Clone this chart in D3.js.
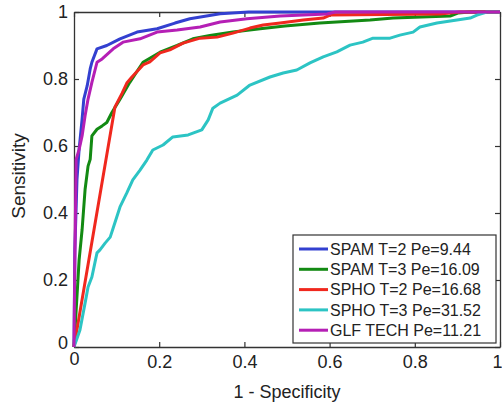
<!DOCTYPE html>
<html>
<head>
<meta charset="utf-8">
<script src="https://cdn.jsdelivr.net/npm/d3@7"></script>
<style>
  body { margin: 0; background: #fff; }
  text { font-family: "Liberation Sans", Arial, sans-serif; fill: #222; }
</style>
</head>
<body>
<div id="chart"></div>
<script>
// ROC curves, values as [1 - specificity, sensitivity]
const spamT2 = [[0,0],[0.002,0.29],[0.007,0.5],[0.012,0.59],[0.019,0.68],[0.023,0.74],[0.031,0.78],[0.038,0.83],[0.042,0.85],[0.054,0.89],[0.077,0.9],[0.108,0.92],[0.148,0.94],[0.195,0.95],[0.237,0.967],[0.272,0.98],[0.343,0.995],[0.41,1],[1,1]]
const spamT3 = [[0,0],[0.012,0.26],[0.019,0.35],[0.026,0.47],[0.033,0.54],[0.038,0.56],[0.042,0.63],[0.054,0.65],[0.066,0.66],[0.077,0.67],[0.089,0.7],[0.108,0.74],[0.131,0.79],[0.162,0.85],[0.202,0.88],[0.242,0.9],[0.279,0.92],[0.319,0.93],[0.373,0.94],[0.437,0.95],[0.495,0.958],[0.577,0.967],[0.695,0.976],[0.749,0.982],[0.883,0.988],[0.901,0.997],[0.93,1],[1,1]]
const sphoT2 = [[0,0],[0.096,0.716],[0.113,0.758],[0.124,0.788],[0.136,0.806],[0.162,0.842],[0.178,0.851],[0.202,0.878],[0.225,0.887],[0.256,0.907],[0.296,0.922],[0.336,0.925],[0.373,0.937],[0.413,0.952],[0.444,0.961],[0.484,0.967],[0.538,0.976],[0.585,0.982],[0.601,0.991],[0.859,0.994],[0.906,1],[1,1]]
const sphoT3 = [[0,0],[0.014,0.051],[0.026,0.131],[0.033,0.179],[0.042,0.209],[0.049,0.251],[0.054,0.281],[0.061,0.29],[0.073,0.31],[0.085,0.328],[0.092,0.355],[0.108,0.418],[0.124,0.46],[0.138,0.499],[0.155,0.528],[0.171,0.558],[0.185,0.588],[0.209,0.603],[0.232,0.627],[0.268,0.633],[0.3,0.648],[0.315,0.678],[0.326,0.713],[0.343,0.728],[0.383,0.752],[0.413,0.782],[0.46,0.806],[0.491,0.818],[0.523,0.827],[0.554,0.848],[0.585,0.866],[0.617,0.881],[0.648,0.901],[0.678,0.91],[0.702,0.922],[0.742,0.922],[0.765,0.931],[0.796,0.94],[0.812,0.955],[0.852,0.967],[0.899,0.976],[0.93,0.982],[0.946,0.991],[0.969,1],[1,1]]
const glfTech = [[0,0],[0.002,0.26],[0.005,0.56],[0.012,0.59],[0.019,0.63],[0.026,0.69],[0.033,0.74],[0.042,0.79],[0.054,0.85],[0.066,0.86],[0.092,0.89],[0.115,0.91],[0.155,0.92],[0.195,0.94],[0.242,0.946],[0.296,0.955],[0.343,0.97],[0.406,0.98],[0.484,0.988],[0.594,0.994],[0.613,1],[1,1]]

const seriesNames = ["SPAM T=2 Pe=9.44", "SPAM T=3 Pe=16.09", "SPHO T=2 Pe=16.68", "SPHO T=3 Pe=31.52", "GLF TECH Pe=11.21"]
const seriesData = [spamT2, spamT3, sphoT2, sphoT3, glfTech]
const colors = ["#3340d0", "#138a13", "#f0281e", "#2cc4c4", "#b51fb5"]

const xTicks = [0, 0.2, 0.4, 0.6, 0.8, 1]
const yTicks = [0, 0.2, 0.4, 0.6, 0.8, 1]

const width = 502, height = 407
const margin = { top: 12, right: 2, bottom: 60, left: 74 }

const svg = d3.select("#chart")
  .append("svg")
  .attr("width", width)
  .attr("height", height)

let x = d3.scaleLinear().domain([0, 1]).range([margin.left, width - margin.right])
let y = d3.scaleLinear().domain([0, 1]).range([height - margin.bottom, margin.top])

// axes (ticks point inward like matlab)
const fmt = d => d === 0 || d === 1 ? String(d) : d.toFixed(1)

const xAxis = svg.append("g")
  .attr("transform", "translate(0," + y(0) + ")")
  .call(d3.axisBottom(x).tickValues(xTicks).tickFormat(fmt).tickSize(-5).tickSizeOuter(0).tickPadding(8))
const yAxis = svg.append("g")
  .attr("transform", "translate(" + x(0) + ",0)")
  .call(d3.axisLeft(y).tickValues(yTicks).tickFormat(fmt).tickSize(-5).tickSizeOuter(0).tickPadding(6))
const topAxis = svg.append("g")
  .attr("transform", "translate(0," + y(1) + ")")
  .call(d3.axisTop(x).tickValues(xTicks).tickFormat("").tickSize(-5).tickSizeOuter(0))
const rightAxis = svg.append("g")
  .attr("transform", "translate(" + x(1) + ",0)")
  .call(d3.axisRight(y).tickValues(yTicks).tickFormat("").tickSize(-5).tickSizeOuter(0))

svg.selectAll(".tick line").attr("stroke", "#333").attr("stroke-width", 1.2)
svg.selectAll(".domain").attr("stroke", "#333").attr("stroke-width", 1.3)
svg.selectAll(".tick text")
  .style("font-family", '"Liberation Sans", Arial, sans-serif')
  .style("font-size", "18px")
  .attr("fill", "#222")

// the corner zeros sit a bit apart in the original, and the last x label hugs the edge
xAxis.selectAll(".tick text").filter(d => d === 0).attr("dy", "0.55em")
xAxis.selectAll(".tick text").filter(d => d === 1).attr("dx", -3)
yAxis.selectAll(".tick text").filter(d => d === 0).attr("dy", "0.1em")

const line = d3.line()
  .x(d => x(d[0]))
  .y(d => y(d[1]))

svg.append("g")
  .selectAll("path")
  .data(seriesData)
  .enter()
  .append("path")
  .attr("d", d => line(d))
  .attr("fill", "none")
  .attr("stroke", (d, i) => colors[i])
  .attr("stroke-width", 3)
  .attr("stroke-linejoin", "round")

// axis titles
svg.append("text")
  .attr("x", (x(0) + x(1)) / 2)
  .attr("y", 398)
  .attr("text-anchor", "middle")
  .style("font-size", "18px")
  .text("1 - Specificity")

svg.append("text")
  .attr("transform", "translate(25," + 176 + ") rotate(-90)")
  .attr("text-anchor", "middle")
  .style("font-size", "19px")
  .text("Sensitivity")

// legend
const legend = svg.append("g")
legend.append("rect")
  .attr("x", 293).attr("y", 235)
  .attr("width", 203).attr("height", 108)
  .attr("fill", "#fff")
  .attr("stroke", "#333")
  .attr("stroke-width", 1.2)

let rows = legend.selectAll("g.row")
  .data(seriesNames)
  .enter()
  .append("g")
  .attr("class", "row")
  .attr("transform", (d, i) => "translate(0," + (249 + i * 20.3) + ")")

rows.append("line")
  .attr("x1", 299).attr("x2", 328)
  .attr("stroke", (d, i) => colors[i])
  .attr("stroke-width", 3)

rows.append("text")
  .attr("x", 330)
  .attr("dy", "0.36em")
  .style("font-size", "16px")
  .text(d => d)
</script>
</body>
</html>
